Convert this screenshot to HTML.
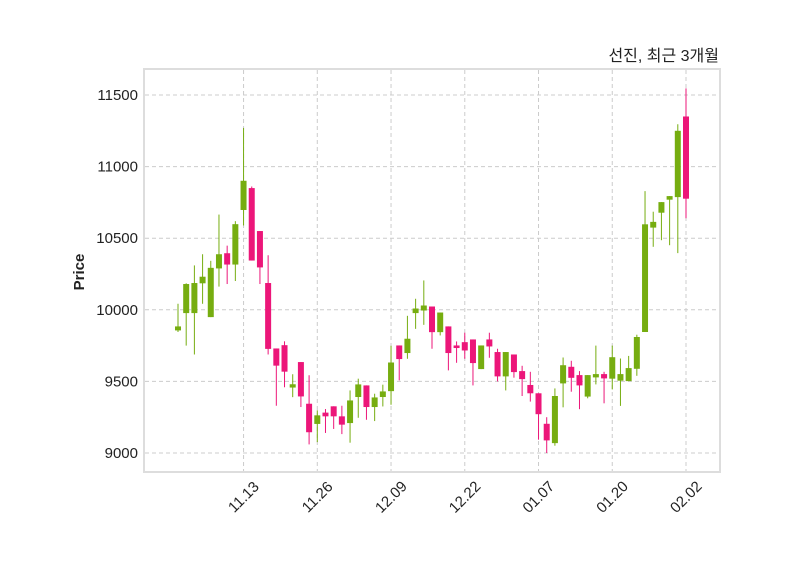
<!DOCTYPE html>
<html><head><meta charset="utf-8"><style>
body{margin:0;background:#fff;}
svg{display:block;font-family:"Liberation Sans","Noto Sans CJK KR",sans-serif;}
</style></head><body>
<svg id="chart" width="800" height="575" viewBox="0 0 800 575">
<rect x="0" y="0" width="800" height="575" fill="#fff"/>
<text x="719" y="61" font-size="16" text-anchor="end" fill="#222">선진, 최근 3개월</text>
<text transform="translate(84,272) rotate(-90)" font-size="15" font-weight="bold" text-anchor="middle" fill="#222">Price</text>
<g id="grid"></g>
<g id="candles"></g>
<rect x="144" y="69" width="576" height="403" fill="none" stroke="#ddd" stroke-width="2"/>
<g id="axes"></g>
</svg>
<script>
const opens  = [9856,9977,9977,10185,9949,10289,10395,10316,10697,10850,10550,10187,9730,9753,9457,9635,9344,9203,9282,9326,9256,9209,9391,9472,9321,9391,9432,9751,9698,9977,9995,10023,9844,9884,9751,9774,9793,9586,9793,9705,9535,9688,9572,9475,9417,9204,9069,9486,9602,9544,9394,9528,9551,9519,9505,9502,9588,9845,10574,10678,10769,10787,11350];
const closes = [9884,10180,10187,10231,10293,10388,10316,10598,10901,10344,10296,9727,9610,9568,9480,9395,9145,9263,9256,9256,9198,9367,9479,9321,9388,9430,9632,9656,9798,10009,10030,9844,9981,9698,9733,9716,9628,9751,9744,9535,9705,9565,9516,9417,9271,9088,9398,9613,9525,9472,9544,9551,9521,9669,9551,9593,9810,10597,10614,10752,10794,11250,10776];
const highs  = [10042,10185,10310,10388,10342,10665,10448,10619,11270,10861,10550,10381,9730,9780,9550,9635,9543,9298,9307,9326,9330,9437,9519,9472,9414,9477,9749,9751,9958,10077,10205,10023,9981,9884,9779,9840,9793,9751,9840,9728,9705,9688,9609,9567,9417,9250,9451,9667,9644,9572,9544,9750,9567,9750,9660,9678,9826,10829,10685,10752,10794,11296,11546];
const lows   = [9845,9750,9688,10042,9949,10162,10180,10201,10589,10344,10180,9688,9330,9459,9390,9321,9060,9076,9140,9168,9132,9072,9246,9232,9223,9325,9337,9507,9658,9867,9895,9728,9821,9577,9630,9658,9472,9586,9665,9500,9437,9526,9398,9359,9093,9000,9051,9319,9428,9306,9382,9479,9347,9444,9329,9502,9539,9845,10440,10486,10451,10396,10639];
const yTicks = [9000,9500,10000,10500,11000,11500];
const xTickIdx = [8,17,26,35,44,53,62];
const xTickLabels = ["11.13","11.26","12.09","12.22","01.07","01.20","02.02"];

const NS="http://www.w3.org/2000/svg";
const X0=178, DX=(686-178)/62;
function xs(i){return X0+i*DX;}
function ys(v){return 453-(v-9000)*(358/2500);}
function mk(tag,attrs,parent){const e=document.createElementNS(NS,tag);for(const k in attrs)e.setAttribute(k,attrs[k]);parent.appendChild(e);return e;}
const grid=document.getElementById('grid'),cg=document.getElementById('candles'),ax=document.getElementById('axes');
yTicks.forEach(v=>{
  const l=mk('line',{x1:145,x2:719,y1:ys(v),y2:ys(v),stroke:'#ccc','stroke-dasharray':'4,3'},grid);
  
  
  const t=mk('text',{x:138,y:ys(v)+5,'font-size':15,'text-anchor':'end',fill:'#222'},ax);
  
  
  t.textContent=v;
});
xTickIdx.forEach((idx,k)=>{
  const x=xs(idx);
  const l=mk('line',{x1:x,x2:x,y1:70,y2:471,stroke:'#ccc','stroke-dasharray':'4,3'},grid);
  
  
  const t=mk('text',{x:0,y:5,'font-size':15,'text-anchor':'middle',fill:'#222',transform:`translate(${x},${497}) rotate(-45)`},ax);
  
  
  t.textContent=xTickLabels[k];
});
opens.forEach((o,i)=>{
  const c=closes[i],up=c>=o,col=up?'#76ad10':'#ec1679';
  const x=xs(i);
  const w=mk('line',{x1:x,x2:x,y1:ys(highs[i]),y2:ys(lows[i]),stroke:col,'stroke-width':1},cg);
  
  
  const top=ys(Math.max(o,c)),bot=ys(Math.min(o,c));
  const b=mk('rect',{x:x-3,y:top,width:6,height:Math.max(1,bot-top),fill:col},cg);
  
  
});
</script>
</body></html>
